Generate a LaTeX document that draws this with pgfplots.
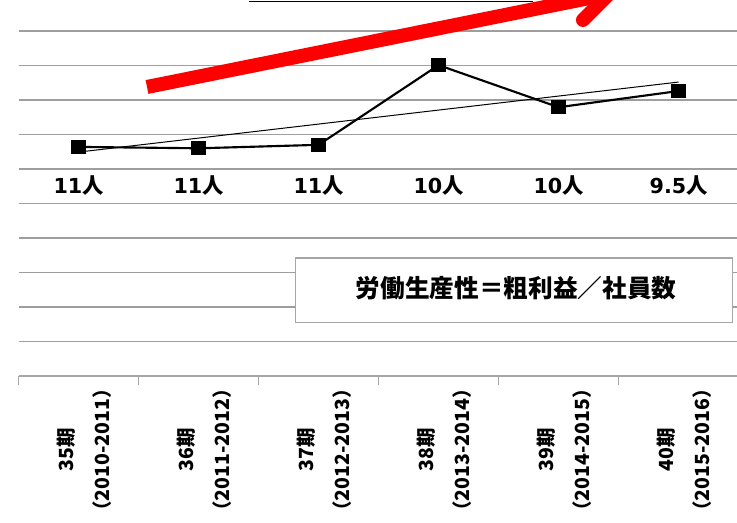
\documentclass[border=0pt]{standalone}
\usepackage{fontspec}
\usepackage{pgfplots}
\pgfplotsset{compat=1.18}
\setmainfont{Noto Sans CJK JP}
\newfontfamily\dv{DejaVu Sans}
\newcommand{\nin}[1]{{\fontsize{15.5}{17}\dv\bfseries\selectfont #1}{\fontsize{16}{17}\selectfont\bfseries 人}}
\begin{document}
\begin{tikzpicture}
\useasboundingbox (-13.95pt,-110.25pt) rectangle (538.8pt,282pt);
\clip (-13.95pt,-110.25pt) rectangle (538.8pt,282pt);
\begin{axis}[
  at={(0,0)}, anchor=south west,
  scale only axis, width=540pt, height=258.75pt,
  xmin=-0.5, xmax=5.5, ymin=0, ymax=10,
  clip=false,
  axis x line*=bottom, axis y line*=left,
  y axis line style={draw=none},
  x axis line style={black!35, line width=0.8pt, -},
  ytick={1,...,10}, yticklabels={}, ytick style={draw=none},
  ymajorgrids, grid style={black!38, line width=0.8pt},
  xtick={0,...,5},
  xticklabels={{35期\\（2010-2011）},{36期\\（2011-2012）},{37期\\（2012-2013）},{38期\\（2013-2014）},{39期\\（2014-2015）},{40期\\（2015-2016）}},
  major x tick style={draw=none},
  minor xtick={-0.5,0.5,...,5.5},
  minor x tick style={black!35, line width=0.8pt},
  minor tick length=6.75pt, tick align=outside,
  xticklabel style={rotate=90, anchor=east, align=center, inner sep=0pt, font=\fontsize{14.6}{27}\selectfont\bfseries, xshift=2pt, yshift=-4pt},
]
% top line (edge of a box above)
\draw[black, line width=0.8pt] (axis cs:1.42,10.86) -- (axis cs:3.79,10.86);
% red arrow
\draw[red, line width=10.5pt, line cap=butt] (axis cs:0.57,8.377) -- (axis cs:4.42,11.07);
\draw[red, line width=10.5pt, line cap=round, line join=round] (axis cs:4.137,11.478) -- (axis cs:4.42,11.07) -- (axis cs:4.203,10.319);
% trend line
\addplot[black, line width=0.75pt, no marks] coordinates {(0,6.49) (5,8.52)};
% data line
\addplot[black, line width=1.6pt, mark=square*, mark size=4.6pt, mark options={solid}] coordinates {
  (0,6.64) (1,6.60) (2,6.70) (3,9.01) (4,7.79) (5,8.26)};
% staff labels
\node at (axis cs:0,5.51) {\nin{11}};
\node at (axis cs:1,5.51) {\nin{11}};
\node at (axis cs:2,5.51) {\nin{11}};
\node at (axis cs:3,5.51) {\nin{10}};
\node at (axis cs:4,5.51) {\nin{10}};
\node at (axis cs:5,5.51) {\nin{9.5}};
% formula box
\draw[black!35, line width=0.8pt, fill=white] (axis cs:1.81,1.54) rectangle (axis cs:5.45,3.42);
\node[font=\fontsize{18.5}{20}\selectfont\bfseries] at (axis cs:3.645,2.55) {労働生産性＝粗利益／社員数};
\end{axis}
\end{tikzpicture}
\end{document}
